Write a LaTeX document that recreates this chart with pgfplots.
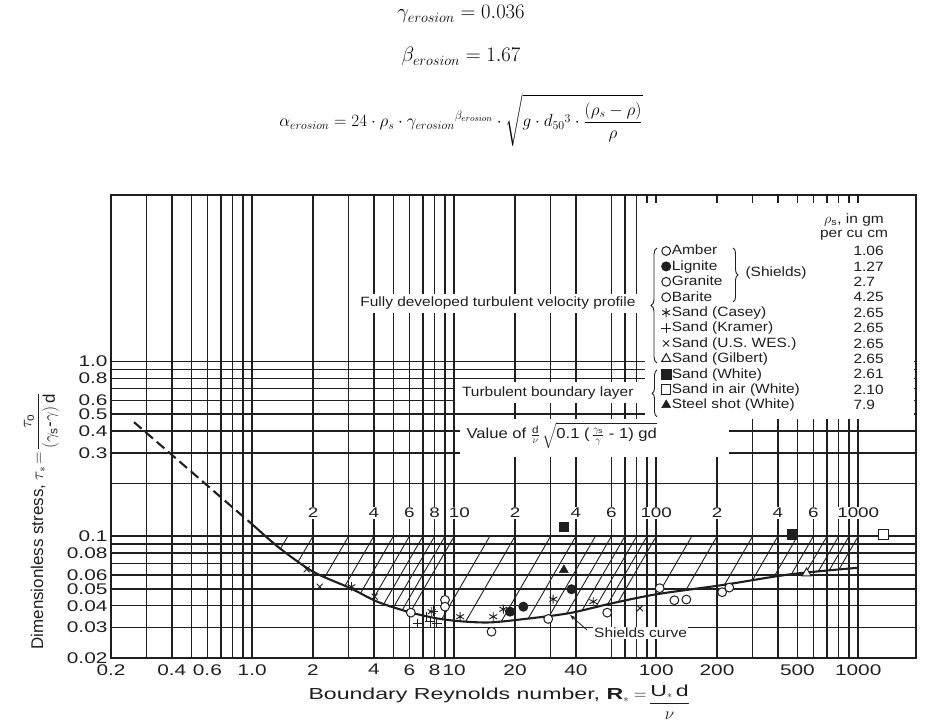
\documentclass[border=0pt]{standalone}
\usepackage{fontspec}
\usepackage{amsmath}
\usepackage{graphicx}
\usepackage{pgfplots}
\pgfplotsset{compat=1.18}
\usetikzlibrary{decorations.pathreplacing,arrows.meta}
\setmainfont{Liberation Sans}
\newfontfamily\tickfont[FakeStretch=1.35]{Liberation Sans}
\newfontfamily\xlabfont[FakeStretch=1.45]{Liberation Sans}
\newfontfamily\legfont[FakeStretch=1.15]{Liberation Sans}
\definecolor{ink}{gray}{0.12}
\newcommand{\lf}{\legfont\fontsize{13.5}{15}\selectfont}
\newcommand{\tf}{\tickfont\fontsize{14}{14}\selectfont}

\begin{document}
\begin{tikzpicture}[x=1bp,y=1bp]
\useasboundingbox (0,0) rectangle (925,724);
\begin{axis}[
  at={(111bp,65.7bp)}, anchor=south west,
  scale only axis, width=805bp, height=463.3bp,
  xmode=log, ymode=log,
  xmin=0.2, xmax=1932, ymin=0.02, ymax=9,
  clip=false,
  xtick={0.2,0.3,0.4,0.5,0.6,0.7,0.8,0.9,1,2,3,4,5,6,7,8,9,10,20,30,40,60,70,80,90,100,200,300,400,500,600,700,800,900,1000},
  xticklabels={0.2,,0.4,,0.6,,,,1.0,2,,4,,6,,8,,10,20,,40,,,,,100,200,,,500,,,,,1000},
  ytick={0.02,0.03,0.04,0.05,0.06,0.07,0.08,0.09,0.1,0.2,0.3,0.4,0.5,0.6,0.7,0.8,0.9,1},
  yticklabels={0.02,0.03,0.04,0.05,0.06,,0.08,,0.1,,0.3,0.4,0.5,0.6,,0.8,,1.0},
  grid=major,
  major grid style={line width=1.5bp, draw=ink},
  axis line style={line width=1.7bp, draw=ink},
  tick style={draw=none}, major tick length=0pt, minor tick length=0pt,
  /pgf/number format/assume math mode=true,
  xticklabel style={font=\tickfont\fontsize{15.5}{15.5}\selectfont, text=ink, yshift=-2.5bp},
  yticklabel style={font=\tickfont\fontsize{15.5}{15.5}\selectfont, text=ink},
  legend style={at={(0.6837,0.8957)}, anchor=north west, draw=none, fill=none,
    inner sep=0pt, outer sep=0pt, row sep=0pt, font=\lf, text=ink,
    nodes={inner sep=0.8bp, text height=10.8bp, text depth=3bp}},
  legend cell align=left,
  legend image code/.code={\draw[mark repeat=2,mark phase=2,#1] plot coordinates {(0bp,0bp) (5bp,0bp) (12bp,0bp)};},
  hatch/.style={draw=ink, line width=0.9bp, forget plot},
]
% white areas where the chart has no grid
\fill[white] (rel axis cs:0.6634,0.5165) rectangle (rel axis cs:0.9975,0.9827);
\fill[white] (rel axis cs:0.4335,0.4345) rectangle (rel axis cs:0.7677,0.5165);
\fill[white] (rel axis cs:0.3193,0.7453) rectangle (rel axis cs:0.6646,0.7863);
\fill[white] (rel axis cs:0.4273,0.5511) rectangle (rel axis cs:0.6646,0.5965);

% hatch lines (Value of d/nu sqrt(...))
\addplot[hatch] coordinates {(1.5,0.1) (1.38,0.0848)};
\addplot[hatch] coordinates {(2,0.1) (1.69,0.0717)};
\addplot[hatch] coordinates {(3,0.1) (2.29,0.0585)};
\addplot[hatch] coordinates {(4,0.1) (2.88,0.052)};
\addplot[hatch] coordinates {(5,0.1) (3.44,0.0472)};
\addplot[hatch] coordinates {(6,0.1) (3.96,0.0435)};
\addplot[hatch] coordinates {(7,0.1) (4.485,0.0410)};
\addplot[hatch] coordinates {(8,0.1) (5.02,0.0394)};
\addplot[hatch] coordinates {(9,0.1) (5.54,0.0379)};
\addplot[hatch] coordinates {(10,0.1) (6.06,0.0367)};
\addplot[hatch] coordinates {(15,0.1) (8.69,0.0336)};
\addplot[hatch] coordinates {(20,0.1) (11.4,0.0325)};
\addplot[hatch] coordinates {(30,0.1) (17.13,0.0326)};
\addplot[hatch] coordinates {(40,0.1) (23.25,0.0338)};
\addplot[hatch] coordinates {(50,0.1) (29.6,0.0350)};
\addplot[hatch] coordinates {(60,0.1) (36.05,0.0361)};
\addplot[hatch] coordinates {(70,0.1) (42.97,0.0377)};
\addplot[hatch] coordinates {(80,0.1) (50.15,0.0393)};
\addplot[hatch] coordinates {(90,0.1) (57.45,0.0407)};
\addplot[hatch] coordinates {(100,0.1) (64.8,0.0420)};
\addplot[hatch] coordinates {(150,0.1) (102.5,0.0467)};
\addplot[hatch] coordinates {(200,0.1) (140.1,0.0491)};
\addplot[hatch] coordinates {(300,0.1) (218,0.0528)};
\addplot[hatch] coordinates {(400,0.1) (299.2,0.0559)};
\addplot[hatch] coordinates {(500,0.1) (382.5,0.0585)};
\addplot[hatch] coordinates {(600,0.1) (467,0.0606)};
\addplot[hatch] coordinates {(700,0.1) (550,0.0617)};
\addplot[hatch] coordinates {(800,0.1) (633.6,0.0627)};
\addplot[hatch] coordinates {(900,0.1) (718,0.0636)};
\addplot[hatch] coordinates {(1000,0.1) (802,0.0644)};

% Shields curve
\addplot[draw=ink, line width=2.1bp, dash pattern=on 10bp off 5bp, forget plot] coordinates {(0.26,0.45) (0.5,0.234) (1.0,0.117)};
\addplot[draw=ink, line width=2.1bp, smooth, tension=0.5, forget plot] coordinates {
(1.0,0.117) (1.37,0.0853) (2,0.0627) (3.05,0.0505) (4.2,0.0420) (6.03,0.0367) (8.17,0.0339) (10.7,0.0326) (15,0.0321) (22.9,0.0337) (37.3,0.0363) (58.7,0.041) (100,0.0465) (214,0.0526) (459,0.0605) (1000,0.066)};

% data
\addplot[only marks, mark=*, mark size=4.4bp, mark options={solid, draw=ink, fill=white, line width=1bp}]
  coordinates {(6.1,0.0365) (9.0,0.0432) (15.3,0.0284) (29.2,0.0336)};
\addlegendentry{Amber}
\addplot[only marks, mark=*, mark size=4.6bp, mark options={solid, draw=ink, fill=ink, line width=0.8bp}]
  coordinates {(18.9,0.0370) (22.0,0.0395) (38.1,0.0497)};
\addlegendentry{Lignite}
\addplot[only marks, mark=*, mark size=4.4bp, mark options={solid, draw=ink, fill=white, line width=1bp}]
  coordinates {(9.0,0.0395) (57.2,0.0365) (104,0.0504) (123,0.0430)};
\addlegendentry{Granite}
\addplot[only marks, mark=*, mark size=4.4bp, mark options={solid, draw=ink, fill=white, line width=1bp}]
  coordinates {(141,0.0434) (212,0.0478) (230,0.0508)};
\addlegendentry{Barite}
\addplot[only marks, mark=asterisk, mark size=4.5bp, mark options={solid, draw=ink, line width=0.9bp}]
  coordinates {(3.1,0.0514) (7.74,0.0370) (10.7,0.0346) (15.6,0.0346) (17.5,0.0382) (30.9,0.0436) (48.8,0.0422)};
\addlegendentry{Sand (Casey)}
\addplot[only marks, mark=+, mark size=4.8bp, mark options={solid, draw=ink, line width=0.9bp}]
  coordinates {(6.6,0.0317) (7.6,0.0324) (8.2,0.0317) (7.3,0.0346) (7.9,0.0372)};
\addlegendentry{Sand (Kramer)}
\addplot[only marks, mark=x, mark size=4.3bp, mark options={solid, draw=ink, line width=0.9bp}]
  coordinates {(1.86,0.0647) (2.16,0.0514) (4.04,0.0451) (83,0.0387)};
\addlegendentry{Sand (U.S. WES.)}
\addplot[only marks, mark=triangle*, mark size=5.2bp, mark options={solid, draw=ink, fill=white, line width=1bp}]
  coordinates {(555,0.0614)};
\addlegendentry{Sand (Gilbert)}
\addplot[only marks, mark=square*, mark size=4.8bp, mark options={solid, draw=ink, fill=ink}]
  coordinates {(34.9,0.1135) (468,0.1026)};
\addlegendentry{Sand (White)}
\addplot[only marks, mark=square*, mark size=4.8bp, mark options={solid, draw=ink, fill=white, line width=1bp}]
  coordinates {(1330,0.1026)};
\addlegendentry{Sand in air (White)}
\addplot[only marks, mark=triangle*, mark size=5.2bp, mark options={solid, draw=ink, fill=ink}]
  coordinates {(34.9,0.0641)};
\addlegendentry{Steel shot (White)}

% secondary scale labels
\foreach \v/\t in {2/2,4/4,6/6,8/8,10.6/10,20/2,40/4,60/6,100/100,200/2,400/4,600/6,1000/1000}{
  \edef\tmp{\noexpand\node[fill=white, inner sep=1bp, font=\noexpand\tf, text=ink] at (axis cs:\v,0.136) {\t};}
  \tmp
}

% annotations
\node[anchor=east, font=\lf, text=ink] at (rel axis cs:0.6559,0.7669) {Fully developed turbulent velocity profile};
\node[anchor=east, font=\lf, text=ink] at (rel axis cs:0.6534,0.5726) {Turbulent boundary layer};
\node[anchor=west, font=\legfont\fontsize{14.5}{16}\selectfont, text=ink] at (rel axis cs:0.4373,0.4798) {Value of $\frac{\text{d}}{\nu}\,\sqrt{\text{0.1 (}\,\frac{\gamma_{\text{s}}}{\gamma}\text{ - 1) gd}}$};
\node[anchor=west, fill=white, inner sep=1bp, font=\lf, text=ink] at (rel axis cs:0.5988,0.0551) {Shields curve};
\draw[ink, line width=0.8bp, -{Stealth[length=6bp,width=4bp]}] (rel axis cs:0.5913,0.0611) -- (rel axis cs:0.5702,0.0935);

\draw[ink, line width=0.9bp, decorate, decoration={brace, amplitude=6bp}] (rel axis cs:0.6783,0.6374) -- (rel axis cs:0.6783,0.8857);
\draw[ink, line width=0.9bp, decorate, decoration={brace, amplitude=5bp}] (rel axis cs:0.6783,0.5213) -- (rel axis cs:0.6783,0.6223);
\draw[ink, line width=0.9bp, decorate, decoration={brace, amplitude=5bp}] (rel axis cs:0.7727,0.8857) -- (rel axis cs:0.7727,0.7691);
\node[anchor=west, font=\lf, text=ink] at (rel axis cs:0.7839,0.8321) {(Shields)};

\node[font=\lf, text=ink] at (rel axis cs:0.923,0.9461) {$\rho_{\text{s}}$, in gm};
\node[font=\lf, text=ink] at (rel axis cs:0.923,0.9137) {per cu cm};
\foreach \ry/\val in {0.8791/1.06,0.8459/1.27,0.8126/2.7,0.7794/4.25,0.7462/2.65,0.7129/2.65,0.6797/2.65,0.6464/2.65,0.6132/2.61,0.58/2.10,0.5467/7.9}{
  \edef\tmp{\noexpand\node[anchor=west, font=\noexpand\lf, text=ink] at (rel axis cs:0.918,\ry) {\val};}
  \tmp
}
\end{axis}

% formulas above the chart
\node[anchor=base, font=\fontsize{20}{22}\selectfont] at (461,705) {$\gamma_{erosion}=0.036$};
\node[anchor=base, font=\fontsize{20}{22}\selectfont] at (461,662) {$\beta_{erosion}=1.67$};
\node[anchor=base, font=\fontsize{18.5}{20}\selectfont] at (461,597) {$\displaystyle\alpha_{erosion}=24\cdot\rho_s\cdot\gamma_{erosion}{}^{\beta_{erosion}}\cdot\sqrt{g\cdot d_{50}{}^{3}\cdot\frac{(\rho_s-\rho)}{\rho}}$};

% axis titles
\node[anchor=base west, font=\xlabfont\fontsize{16}{18}\selectfont, text=ink] at (305,24) {Boundary Reynolds number, \textbf{R}$_{*}=$\,\raisebox{-8bp}{$\dfrac{\text{U}_{*}\,\text{d}}{\nu}$}};
\node[rotate=90, anchor=base west, font=\fontsize{17}{20}\selectfont, text=ink] at (43,71) {Dimensionless stress, $\tau_{*}\!=\!\dfrac{\tau_{\text{o}}}{(\gamma_{\text{s}}\text{-}\gamma)\,\text{d}}$};
\end{tikzpicture}
\end{document}
